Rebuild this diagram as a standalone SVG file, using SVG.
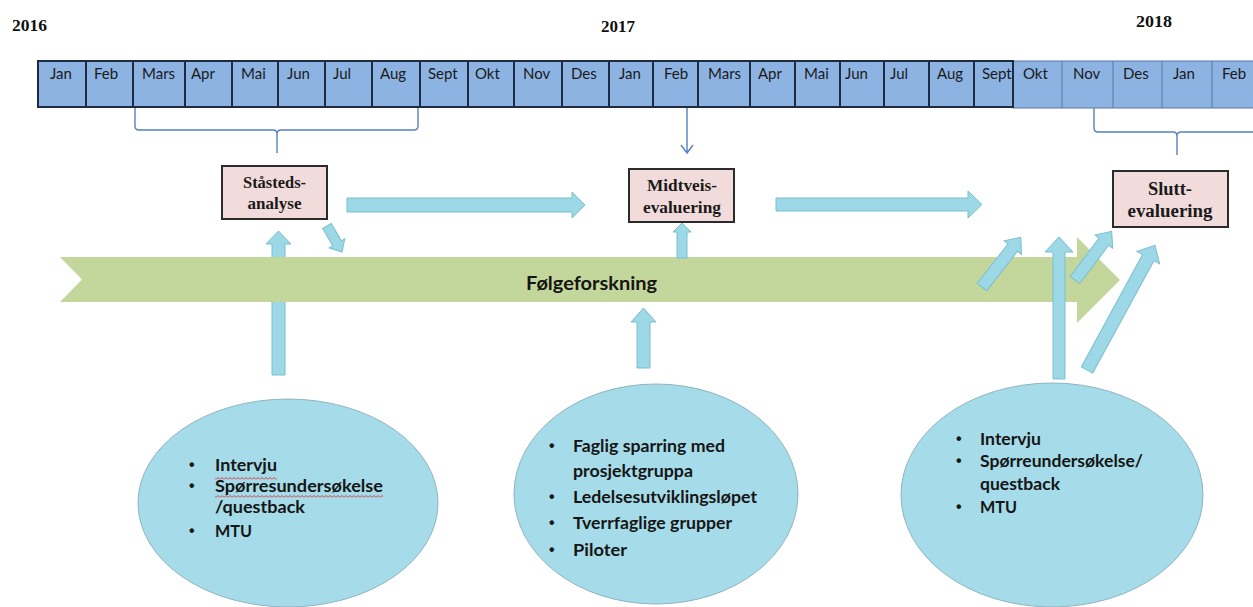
<svg xmlns="http://www.w3.org/2000/svg" width="1253" height="607" viewBox="0 0 1253 607">
<style>
.year{font-family:"Liberation Serif",serif;font-weight:bold;font-size:17px;fill:#111}
.mon{font-family:Lato,"Liberation Sans",sans-serif;font-size:15px;fill:#1a1a1a}
.cellA{fill:#8db3e2;stroke:#1e2b42;stroke-width:2}
.cellB{fill:#8db3e2;stroke:#5877a6;stroke-width:1}
.brace{fill:none;stroke:#5682bd;stroke-width:1.4}
.box{fill:#f2dcdb;stroke:#2b2b2b;stroke-width:2}
.bt{font-family:"Liberation Serif",serif;font-weight:bold;fill:#1a1a1a;text-anchor:middle}
.blk{fill:#9cd8e6;stroke:#7bbfd1;stroke-width:1}
.ell{fill:#a6dce9;stroke:#8fb4c2;stroke-width:1}
.et{font-family:Lato,"Liberation Sans",sans-serif;font-weight:bold;font-size:17px;fill:#151515}
.bul{font-family:"Liberation Sans",sans-serif;font-weight:bold;font-size:16px;fill:#151515}
.band{fill:#c3d69b}
</style>
<defs>
<pattern id="wavy" x="0" y="0" width="4" height="3" patternUnits="userSpaceOnUse">
<path d="M0,2.5 L2,0.5 L4,2.5" fill="none" stroke="#d9262a" stroke-width="0.9"/>
</pattern>
</defs>

<g id="years">
<text class="year" x="12" y="31" textLength="35" lengthAdjust="spacingAndGlyphs">2016</text>
<text class="year" x="601" y="32" textLength="34" lengthAdjust="spacingAndGlyphs">2017</text>
<text class="year" x="1136" y="27" textLength="36" lengthAdjust="spacingAndGlyphs">2018</text>
</g>

<g id="timeline">
<rect class="cellB" x="1013" y="61" width="245" height="47"/>
<line x1="1062" y1="61" x2="1062" y2="108" stroke="#5877a6" stroke-width="1"/>
<line x1="1113" y1="61" x2="1113" y2="108" stroke="#5877a6" stroke-width="1"/>
<line x1="1162" y1="61" x2="1162" y2="108" stroke="#5877a6" stroke-width="1"/>
<line x1="1212" y1="61" x2="1212" y2="108" stroke="#5877a6" stroke-width="1"/>
<rect class="cellA" x="38" y="61" width="975" height="46"/>
<g stroke="#1e2b42" stroke-width="2">
<line x1="86" y1="61" x2="86" y2="107"/><line x1="133" y1="61" x2="133" y2="107"/>
<line x1="185" y1="61" x2="185" y2="107"/><line x1="232" y1="61" x2="232" y2="107"/>
<line x1="278" y1="61" x2="278" y2="107"/><line x1="325" y1="61" x2="325" y2="107"/>
<line x1="372" y1="61" x2="372" y2="107"/><line x1="420" y1="61" x2="420" y2="107"/>
<line x1="468" y1="61" x2="468" y2="107"/><line x1="514" y1="61" x2="514" y2="107"/>
<line x1="562" y1="61" x2="562" y2="107"/><line x1="609" y1="61" x2="609" y2="107"/>
<line x1="653" y1="61" x2="653" y2="107"/><line x1="698" y1="61" x2="698" y2="107"/>
<line x1="750" y1="61" x2="750" y2="107"/><line x1="795" y1="61" x2="795" y2="107"/>
<line x1="840" y1="61" x2="840" y2="107"/><line x1="884" y1="61" x2="884" y2="107"/>
<line x1="929" y1="61" x2="929" y2="107"/><line x1="974" y1="61" x2="974" y2="107"/>
</g>
<text class="mon" x="50" y="79">Jan</text>
<text class="mon" x="94" y="79">Feb</text>
<text class="mon" x="142" y="79">Mars</text>
<text class="mon" x="191" y="79">Apr</text>
<text class="mon" x="241" y="79">Mai</text>
<text class="mon" x="287" y="79">Jun</text>
<text class="mon" x="333" y="79">Jul</text>
<text class="mon" x="380" y="79">Aug</text>
<text class="mon" x="428" y="79">Sept</text>
<text class="mon" x="475" y="79">Okt</text>
<text class="mon" x="523" y="79">Nov</text>
<text class="mon" x="571" y="79">Des</text>
<text class="mon" x="619" y="79">Jan</text>
<text class="mon" x="664" y="79">Feb</text>
<text class="mon" x="708" y="79">Mars</text>
<text class="mon" x="758" y="79">Apr</text>
<text class="mon" x="804" y="79">Mai</text>
<text class="mon" x="845" y="79">Jun</text>
<text class="mon" x="890" y="79">Jul</text>
<text class="mon" x="937" y="79">Aug</text>
<text class="mon" x="982" y="79">Sept</text>
<text class="mon" x="1023" y="79">Okt</text>
<text class="mon" x="1073" y="79">Nov</text>
<text class="mon" x="1123" y="79">Des</text>
<text class="mon" x="1173" y="79">Jan</text>
<text class="mon" x="1222" y="79">Feb</text>
</g>

<g id="connectors">
<path class="brace" d="M135,108 V126 Q135,130 139,130 H273 Q277,130 277,134 V153 M277,134 Q277,130 281,130 H414 Q418,130 418,126 V108"/>
<path class="brace" d="M1094,108 V128 Q1094,132 1098,132 H1173 Q1177,132 1177,136 V155 M1177,136 Q1177,132 1181,132 H1253"/>
<path class="brace" d="M687,108 V153 M681,145 L687,153 L693,145"/>
<polygon class="blk" points="272,375 272,244 266,244 278.5,231 291,244 285,244 285,375"/>
<polygon class="band" points="60,257 1077,257 1077,237 1120,280 1077,323 1077,302 60,302 82,279.5"/>
<polygon class="blk" points="347,198 572,198 572,192 585,205 572,218 572,212 347,212"/>
<polygon class="blk" points="776,198 968,198 968,191 982,204.5 968,218 968,211 776,211"/>
<path class="blk" transform="translate(327,226) rotate(60)" d="M0,-5 H20 V-9 L30,0 L20,9 V5 H0 Z"/>
<polygon class="blk" points="677,258 677,232 673,232 682,223 691,232 687,232 687,258"/>
<polygon class="blk" points="637,368 637,322 631,322 643.5,308 656,322 650,322 650,368"/>
<path class="blk" transform="translate(982,287) rotate(-52)" d="M0,-6 H50 V-11 L63,0 L50,11 V6 H0 Z"/>
<polygon class="blk" points="1053,379 1053,252 1045,252 1059,237 1073,252 1065,252 1065,379"/>
<path class="blk" transform="translate(1075,280) rotate(-53)" d="M0,-6 H48 V-11 L61,0 L48,11 V6 H0 Z"/>
<path class="blk" transform="translate(1087,370) rotate(-61.4)" d="M0,-6.5 H128 V-13 L142,0 L128,13 V6.5 H0 Z"/>
</g>

<g id="folgeforskning">
<text x="526" y="290" font-family="Lato,'Liberation Sans',sans-serif" font-weight="bold" font-size="19" fill="#151515" textLength="131" lengthAdjust="spacingAndGlyphs">Følgeforskning</text>
</g>

<g id="stastedsanalyse">
<rect class="box" x="222" y="166" width="105" height="53"/>
<text class="bt" x="274.5" y="188" font-size="16" textLength="63" lengthAdjust="spacingAndGlyphs">Ståsteds-</text>
<text class="bt" x="274.5" y="209" font-size="16" textLength="54" lengthAdjust="spacingAndGlyphs">analyse</text>
</g>

<g id="midtveisevaluering">
<rect class="box" x="629" y="169" width="105" height="53"/>
<text class="bt" x="682" y="191" font-size="17" textLength="70" lengthAdjust="spacingAndGlyphs">Midtveis-</text>
<text class="bt" x="682" y="213" font-size="17" textLength="78" lengthAdjust="spacingAndGlyphs">evaluering</text>
</g>

<g id="sluttevaluering">
<rect class="box" x="1113" y="171" width="115" height="56"/>
<text class="bt" x="1170" y="195" font-size="18" textLength="44" lengthAdjust="spacingAndGlyphs">Slutt-</text>
<text class="bt" x="1170" y="217" font-size="18" textLength="85" lengthAdjust="spacingAndGlyphs">evaluering</text>
</g>

<g id="metoder-start">
<ellipse class="ell" cx="288" cy="503" rx="150" ry="104"/>
<text class="bul" x="189" y="470">•</text>
<text class="et" x="215" y="471" textLength="62" lengthAdjust="spacingAndGlyphs">Intervju</text>
<rect x="215" y="477" width="62" height="3" fill="url(#wavy)"/>
<text class="bul" x="189" y="491">•</text>
<text class="et" x="215" y="492" textLength="168" lengthAdjust="spacingAndGlyphs">Spørresundersøkelse</text>
<rect x="215" y="495" width="168" height="3" fill="url(#wavy)"/>
<text class="et" x="215" y="513" textLength="90" lengthAdjust="spacingAndGlyphs">/questback</text>
<text class="bul" x="189" y="536">•</text>
<text class="et" x="215" y="537" textLength="37" lengthAdjust="spacingAndGlyphs">MTU</text>
</g>

<g id="metoder-midt">
<ellipse class="ell" cx="656" cy="494" rx="142" ry="110"/>
<text class="bul" x="549" y="451">•</text>
<text class="et" x="573" y="452" textLength="152" lengthAdjust="spacingAndGlyphs">Faglig sparring med</text>
<text class="et" x="573" y="477" textLength="120" lengthAdjust="spacingAndGlyphs">prosjektgruppa</text>
<text class="bul" x="549" y="502">•</text>
<text class="et" x="573" y="503" textLength="184" lengthAdjust="spacingAndGlyphs">Ledelsesutviklingsløpet</text>
<text class="bul" x="549" y="528">•</text>
<text class="et" x="573" y="529" textLength="159" lengthAdjust="spacingAndGlyphs">Tverrfaglige grupper</text>
<text class="bul" x="549" y="555">•</text>
<text class="et" x="573" y="556" textLength="54" lengthAdjust="spacingAndGlyphs">Piloter</text>
</g>

<g id="metoder-slutt">
<ellipse class="ell" cx="1052" cy="495" rx="151" ry="112"/>
<text class="bul" x="956" y="444">•</text>
<text class="et" x="980" y="445" textLength="61" lengthAdjust="spacingAndGlyphs">Intervju</text>
<text class="bul" x="956" y="466">•</text>
<text class="et" x="980" y="467" textLength="163" lengthAdjust="spacingAndGlyphs">Spørreundersøkelse/</text>
<text class="et" x="980" y="490" textLength="80" lengthAdjust="spacingAndGlyphs">questback</text>
<text class="bul" x="956" y="512">•</text>
<text class="et" x="980" y="513" textLength="37" lengthAdjust="spacingAndGlyphs">MTU</text>
</g>
</svg>
